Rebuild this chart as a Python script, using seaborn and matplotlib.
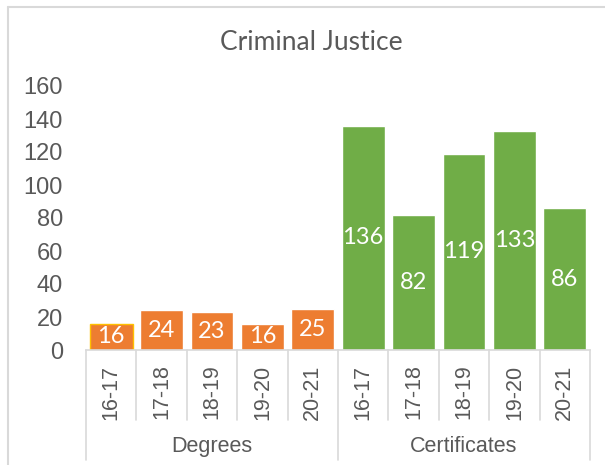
import matplotlib
matplotlib.use("Agg")
import matplotlib.pyplot as plt
from matplotlib.lines import Line2D
import matplotlib.transforms as mtransforms
import seaborn as sns
import pandas as pd

title = "Criminal Justice"
groups = ["Degrees", "Certificates"]
years = ["16-17", "17-18", "18-19", "19-20", "20-21"]
degrees = [16, 24, 23, 16, 25]
certificates = [136, 82, 119, 133, 86]
yticks = [0, 20, 40, 60, 80, 100, 120, 140, 160]

colors = {"Degrees": "#ED7D31", "Certificates": "#70AD47"}
gray = "#595959"
line_gray = "#D9D9D9"

rows = []
for g, vals in zip(groups, [degrees, certificates]):
    for y, v in zip(years, vals):
        rows.append({"group": g, "year": y, "cat": f"{g} {y}", "value": v})
df = pd.DataFrame(rows)

sns.set_theme(style="white")
plt.rcParams["font.family"] = ["Liberation Sans", "DejaVu Sans"]

W, H = 605, 465
fig = plt.figure(figsize=(W / 100, H / 100), dpi=100)
fig.patch.set_facecolor("white")

def fx(px):
    return px / W

def fy(py):
    return (H - py) / H

left_px, right_px, top_px, bot_px = 86, 590, 86, 350
ax = fig.add_axes([fx(left_px), fy(bot_px), (right_px - left_px) / W, (bot_px - top_px) / H])

sns.barplot(data=df, x="cat", y="value", hue="group", palette=colors,
            dodge=False, width=0.85, legend=False, ax=ax, saturation=1)

ax.set_xlim(-0.5, len(df) - 0.5)
ax.set_ylim(0, 160)
ax.set_yticks(yticks)
ax.set_yticklabels([str(t) for t in yticks])
ax.tick_params(axis="y", length=0, pad=16.5, labelsize=17, labelcolor=gray)
ax.set_xticks([])
ax.set_xlabel("")
ax.set_ylabel("")
for s in ["top", "right", "left"]:
    ax.spines[s].set_visible(False)
ax.spines["bottom"].set_color(line_gray)
ax.spines["bottom"].set_linewidth(1.2)

for cont in ax.containers:
    ax.bar_label(cont, fmt="%d", label_type="center", color="white",
                 fontsize=17, family="Lato")

# highlight outline on first bar
first = min(ax.patches, key=lambda p: p.get_x())
first.set_edgecolor("#FFC000")
first.set_linewidth(1.0)

ax.set_title("")
fig.text(fx(311), fy(42), title, ha="center", va="center", fontsize=19,
         color=gray, family="Lato")

trans = mtransforms.blended_transform_factory(ax.transData, fig.transFigure)
n = len(df)
for i in range(n + 1):
    xb = i - 0.5
    ybot = 460 if i in (0, len(years), n) else 420
    ax.add_line(Line2D([xb, xb], [fy(bot_px), fy(ybot)], transform=trans,
                       color=line_gray, lw=1.2, clip_on=False))

for i, yr in enumerate(list(df["year"])):
    ax.text(i, fy(392), yr, transform=trans, rotation=90, ha="center",
            va="center", fontsize=15.5, color=gray)

for gi, g in enumerate(groups):
    center = gi * len(years) + (len(years) - 1) / 2
    ax.text(center, fy(446), g, transform=trans, ha="center", va="center",
            fontsize=15.5, color=gray)

# chart border (top and left visible)
fig.add_artist(Line2D([fx(8), 1.0], [fy(7), fy(7)], transform=fig.transFigure,
                      color=line_gray, lw=1.5))
fig.add_artist(Line2D([fx(8), fx(8)], [fy(7), 0.0], transform=fig.transFigure,
                      color=line_gray, lw=1.5))

fig.savefig("out.png", dpi=100, facecolor="white")
